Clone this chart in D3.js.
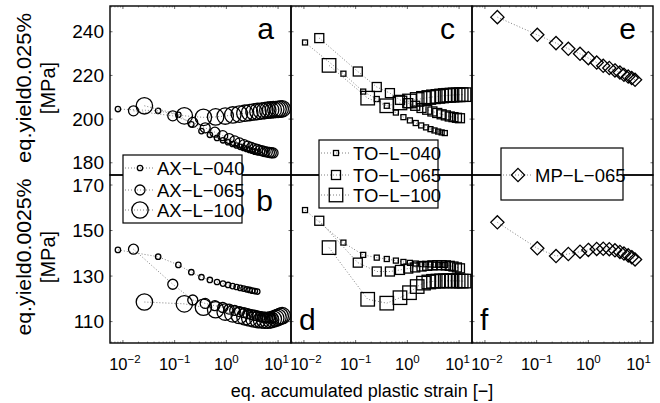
<!DOCTYPE html>
<html><head><meta charset="utf-8">
<script src="https://cdn.jsdelivr.net/npm/d3@7"></script>
<style>
body{margin:0;background:#fff}
svg{display:block}
text{font-family:"Liberation Sans",Arial,Helvetica,sans-serif;fill:#000}
</style>
</head><body>
<svg id="chart" width="660" height="403"></svg>
<script>
// ---- AX specimens (panels a, b) ----
const axStrain040 = [0.008, 0.048, 0.118, 0.21, 0.33, 0.48, 0.66, 0.86, 1.08, 1.32, 1.58, 1.86, 2.16, 2.48, 2.82, 3.18, 3.56, 3.96];
const ax040Yield025 = [204.6, 203.8, 202.0, 197.6, 194.5, 192.8, 191.4, 190.3, 189.4, 188.6, 187.9, 187.3, 186.8, 186.3, 185.9, 185.5, 185.1, 184.8];
const ax040Yield0025 = [141.5, 138.5, 134.9, 131.7, 129.5, 128.3, 127.4, 126.7, 126.1, 125.6, 125.2, 124.8, 124.5, 124.2, 123.9, 123.6, 123.4, 123.2];

const axStrain065 = [0.016, 0.092, 0.224, 0.39, 0.6, 0.85, 1.13, 1.45, 1.8, 2.2, 2.6, 3.05, 3.5, 4.0, 4.5, 5.05, 5.6, 6.2, 6.8, 7.4, 8.0];
const ax065Yield025 = [203.8, 201.5, 198.5, 196.0, 194.0, 192.4, 191.1, 190.0, 189.1, 188.3, 187.6, 187.0, 186.5, 186.1, 185.7, 185.4, 185.1, 184.9, 184.7, 184.6, 184.5];
const ax065Yield0025 = [141.8, 126.4, 119.5, 118.0, 117.0, 116.2, 115.5, 114.9, 114.4, 113.9, 113.5, 113.1, 112.8, 112.5, 112.2, 112.0, 111.8, 111.7, 111.6, 111.5, 111.5];

const axStrain100 = [0.026, 0.154, 0.36, 0.62, 0.95, 1.33, 1.78, 2.28, 2.83, 3.43, 4.08, 4.78, 5.53, 6.33, 7.18, 8.08, 9.03, 10.0, 11.0, 12.0];
const ax100Yield025 = [206.1, 201.5, 200.8, 201.0, 201.4, 201.9, 202.3, 202.7, 203.0, 203.3, 203.5, 203.7, 203.9, 204.1, 204.2, 204.3, 204.4, 204.5, 204.6, 204.7];
const ax100Yield0025 = [118.6, 117.8, 116.3, 115.2, 114.2, 113.4, 112.7, 112.1, 111.6, 111.2, 110.9, 110.7, 110.6, 110.6, 110.8, 111.1, 111.5, 111.9, 112.3, 112.6];

// ---- TO specimens (panels c, d) ----
const toStrain040 = [0.0105, 0.058, 0.14, 0.256, 0.4, 0.6, 0.84, 1.12, 1.45, 1.85, 2.3, 2.8, 3.35, 3.95, 4.6, 5.3];
const to040Yield025 = [235.1, 220.8, 212.6, 209.2, 206.1, 203.0, 200.9, 199.4, 198.2, 197.1, 196.2, 195.4, 194.8, 194.3, 193.9, 193.6];
const to040Yield0025 = [159.0, 144.7, 139.3, 138.1, 137.5, 136.8, 136.2, 135.8, 135.5, 135.3, 135.2, 135.1, 135.0, 135.0, 134.9, 134.9];

const toStrain065 = [0.0198, 0.11, 0.256, 0.46, 0.72, 1.04, 1.42, 1.88, 2.42, 3.05, 3.78, 4.6, 5.55, 6.6, 7.8, 9.1, 10.4];
const to065Yield025 = [237.1, 221.8, 214.7, 211.9, 208.8, 207.3, 206.1, 205.1, 204.3, 203.5, 202.8, 202.2, 201.7, 201.2, 200.9, 200.6, 200.4];
const to065Yield0025 = [154.3, 135.9, 132.0, 132.0, 132.7, 133.3, 133.8, 134.2, 134.5, 134.7, 134.8, 134.8, 134.7, 134.5, 134.2, 133.8, 133.4];

const toStrain100 = [0.0306, 0.171, 0.40, 0.72, 1.1, 1.55, 2.05, 2.6, 3.2, 3.9, 4.6, 5.4, 6.3, 7.3, 8.4, 9.6, 11.0, 12.5];
const to100Yield025 = [224.6, 209.6, 206.1, 207.4, 208.3, 209.0, 209.5, 209.9, 210.2, 210.4, 210.6, 210.8, 210.9, 211.0, 211.1, 211.1, 211.2, 211.2];
const to100Yield0025 = [142.5, 119.8, 118.1, 120.5, 122.7, 125.4, 126.9, 127.4, 127.7, 127.8, 127.9, 127.9, 127.9, 127.9, 127.9, 127.9, 127.8, 127.8];

// ---- MP specimen (panels e, f) ----
const mpStrain065 = [0.0174, 0.103, 0.237, 0.41, 0.69, 1.0, 1.45, 1.94, 2.54, 3.27, 4.08, 4.88, 5.9, 6.9, 8.0];
const mp065Yield025 = [246.7, 238.6, 234.8, 232.2, 229.9, 227.9, 225.9, 224.4, 223.4, 222.3, 221.3, 220.3, 219.5, 218.8, 218.0];
const mp065Yield0025 = [153.6, 142.2, 138.8, 139.7, 140.7, 141.5, 141.9, 142.0, 141.8, 141.3, 140.6, 139.9, 139.1, 138.3, 137.3];

// ---- axis ticks and labels ----
const xTickExponents = [-2, -1, 0, 1];
const yTicksTop = [180, 200, 220, 240];
const yTicksBottom = [110, 130, 150, 170];
const panelLetters = [["a", "c", "e"], ["b", "d", "f"]];
const yLabelTop = ["eq.yield0.025%", "[MPa]"];
const yLabelBottom = ["eq.yield0.0025%", "[MPa]"];
const xLabel = "eq. accumulated plastic strain [\u2212]";

// ---- layout ----
const colX = [110, 291, 472];
const colW = 181;
const rowY = [[6, 175], [175, 343]];

const svg = d3.select("#chart");
svg.append("rect").attr("width", 660).attr("height", 403).attr("fill", "#fff");

const x = colX.map(x0 => d3.scaleLog().domain([Math.pow(10, -2.25), Math.pow(10, 1.25)]).range([x0, x0 + colW]));
const yTop = d3.scaleLinear().domain([174.4, 251.8]).range([175, 6]);
const yBot = d3.scaleLinear().domain([100.6, 174.4]).range([343, 175]);
const yScales = [yTop, yBot];

const zip = (xs, ys) => xs.map((v, i) => [v, ys[i]]);

// series per column: [name, shape, size, strain, yieldTop, yieldBottom]
const groups = [
  [
    ["AX\u2212L\u2212040", "circle", 2.7, axStrain040, ax040Yield025, ax040Yield0025],
    ["AX\u2212L\u2212065", "circle", 5.0, axStrain065, ax065Yield025, ax065Yield0025],
    ["AX\u2212L\u2212100", "circle", 8.2, axStrain100, ax100Yield025, ax100Yield0025]
  ],
  [
    ["TO\u2212L\u2212040", "square", 5.0, toStrain040, to040Yield025, to040Yield0025],
    ["TO\u2212L\u2212065", "square", 9.0, toStrain065, to065Yield025, to065Yield0025],
    ["TO\u2212L\u2212100", "square", 13.5, toStrain100, to100Yield025, to100Yield0025]
  ],
  [
    ["MP\u2212L\u2212065", "diamond", 6.6, mpStrain065, mp065Yield025, mp065Yield0025]
  ]
];

function drawMarker(g, shape, s, cx, cy) {
  if (shape === "circle") {
    g.append("circle").attr("cx", cx).attr("cy", cy).attr("r", s);
  } else if (shape === "square") {
    g.append("rect").attr("x", cx - s / 2).attr("y", cy - s / 2).attr("width", s).attr("height", s);
  } else {
    g.append("path").attr("d", `M${cx},${cy - s}L${cx + s},${cy}L${cx},${cy + s}L${cx - s},${cy}Z`);
  }
}

const defs = svg.append("defs");
const plot = svg.append("g");

groups.forEach((series, c) => {
  [0, 1].forEach(r => {
    const id = `clip-${c}-${r}`;
    const [y0, y1] = rowY[r];
    defs.append("clipPath").attr("id", id).append("rect")
      .attr("x", colX[c]).attr("y", y0).attr("width", colW).attr("height", y1 - y0);
    const g = plot.append("g").attr("clip-path", `url(#${id})`);
    const ys = yScales[r];
    const line = d3.line().x(d => x[c](d[0])).y(d => ys(d[1]));
    series.forEach(s => {
      const pts = zip(s[3], r === 0 ? s[4] : s[5]);
      g.append("path").attr("d", line(pts)).attr("fill", "none")
        .attr("stroke", "#808080").attr("stroke-width", 1).attr("stroke-dasharray", "1,2");
      const mg = g.append("g").attr("fill", "none").attr("stroke", "#000").attr("stroke-width", 1.3);
      pts.forEach(p => drawMarker(mg, s[1], s[2], x[c](p[0]), ys(p[1])));
    });
  });
});

// ticks (inward) along frames
const tickG = svg.append("g").attr("stroke", "#000").attr("stroke-width", 0.6);
colX.forEach((x0, c) => {
  [0, 1].forEach(r => {
    const ys = yScales[r];
    const ticks = r === 0 ? yTicksTop : yTicksBottom;
    ticks.forEach(t => {
      tickG.append("line").attr("x1", x0).attr("x2", x0 + 2.5).attr("y1", ys(t)).attr("y2", ys(t));
      tickG.append("line").attr("x1", x0 + colW).attr("x2", x0 + colW - 2.5).attr("y1", ys(t)).attr("y2", ys(t));
    });
  });
  // major and minor log ticks on the bottom and top frames
  const [d0, d1] = x[c].domain();
  const marks = [];
  for (let e = -3; e <= 1; e++) for (let m = 1; m <= 9; m++) {
    const v = m * Math.pow(10, e);
    if (v >= d0 && v <= d1) marks.push([v, m === 1]);
  }
  marks.forEach(([v, major]) => {
    const px = x[c](v);
    tickG.append("line").attr("x1", px).attr("x2", px).attr("y1", 343).attr("y2", 343 - (major ? 3 : 1.6))
      .attr("stroke", major ? "#000" : "#666");
    tickG.append("line").attr("x1", px).attr("x2", px).attr("y1", 6).attr("y2", 6 + (major ? 3 : 1.6))
      .attr("stroke", major ? "#000" : "#666");
  });
});

// panel frames
const frame = svg.append("g").attr("fill", "none").attr("stroke", "#000").attr("stroke-width", 1.4);
colX.forEach(x0 => {
  rowY.forEach(([y0, y1]) => {
    frame.append("rect").attr("x", x0).attr("y", y0).attr("width", colW).attr("height", y1 - y0);
  });
});

// y tick labels
const yAxisG = svg.append("g").attr("font-size", 19).attr("text-anchor", "end");
[yTicksTop, yTicksBottom].forEach((ticks, r) => {
  ticks.forEach(t => {
    yAxisG.append("text").attr("x", 104).attr("y", yScales[r](t) + 6.5).text(t);
  });
});

// x tick labels, powers of ten; the outermost labels lean inward so neighbours don't collide
const xAxisG = svg.append("g").attr("text-anchor", "middle");
colX.forEach((x0, c) => {
  xTickExponents.forEach((e, i) => {
    const nudge = i === 0 ? 2 : (i === xTickExponents.length - 1 ? -1.5 : 0);
    const t = xAxisG.append("text").attr("x", x[c](Math.pow(10, e)) + nudge).attr("y", 370).attr("font-size", 16.5);
    t.append("tspan").text("10");
    t.append("tspan").attr("dy", -7).attr("font-size", 11.5).text(e < 0 ? "\u2212" + (-e) : String(e));
  });
});

// panel letters
const letterG = svg.append("g").attr("font-size", 30);
colX.forEach((x0, c) => {
  letterG.append("text").attr("x", x0 + 164).attr("y", 39).attr("text-anchor", "end").text(panelLetters[0][c]);
  if (c === 0) {
    letterG.append("text").attr("x", x0 + 163).attr("y", 211).attr("text-anchor", "end").text(panelLetters[1][c]);
  } else {
    letterG.append("text").attr("x", x0 + 8).attr("y", 330).attr("text-anchor", "start").text(panelLetters[1][c]);
  }
});

// legends
const legendBoxes = [
  { x: 123, y: 155, w: 119, h: 68, rows: [13, 35, 55] },
  { x: 319, y: 140, w: 119, h: 68, rows: [13, 35, 55] },
  { x: 501, y: 148, w: 122, h: 52, rows: [27] }
];
groups.forEach((series, c) => {
  const L = legendBoxes[c];
  const g = svg.append("g").attr("transform", `translate(${L.x},${L.y})`);
  g.append("rect").attr("width", L.w).attr("height", L.h).attr("fill", "#fff").attr("stroke", "#000").attr("stroke-width", 1.2);
  series.forEach((s, i) => {
    const ry = L.rows[i];
    g.append("line").attr("x1", 2).attr("x2", 32).attr("y1", ry).attr("y2", ry)
      .attr("stroke", "#808080").attr("stroke-width", 1).attr("stroke-dasharray", "1,2");
    const mg = g.append("g").attr("fill", "none").attr("stroke", "#000").attr("stroke-width", 1.3);
    drawMarker(mg, s[1], s[2], 17, ry);
    g.append("text").attr("x", 34).attr("y", ry + 6.5).attr("font-size", 18.5).text(s[0]);
  });
});

// axis titles
function yTitle(lines, cy, len) {
  const g = svg.append("g").attr("transform", `translate(0,${cy}) rotate(-90)`).attr("text-anchor", "middle").attr("font-size", 20);
  g.append("text").attr("x", 0).attr("y", 31).attr("textLength", len).attr("lengthAdjust", "spacingAndGlyphs").text(lines[0]);
  g.append("text").attr("x", 0).attr("y", 55).text(lines[1]);
}
yTitle(yLabelTop, 88, 150);
yTitle(yLabelBottom, 257, 157);

svg.append("text").attr("x", 362).attr("y", 397).attr("text-anchor", "middle").attr("font-size", 18).text(xLabel);
</script>
</body></html>
